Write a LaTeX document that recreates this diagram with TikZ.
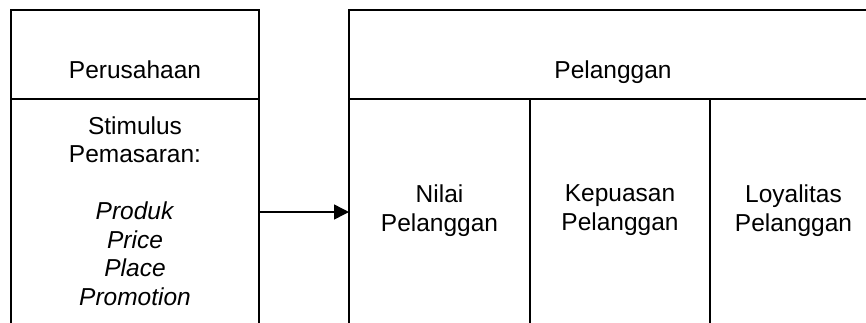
\documentclass[tikz,border=0pt]{standalone}
\usepackage{fontspec}
\setmainfont{Liberation Sans}
\usetikzlibrary{arrows.meta}

\begin{document}
\begin{tikzpicture}[x=1pt,y=-1pt,line width=1.5pt,
    cell/.style={draw,rectangle,inner sep=0pt,outer sep=0pt,anchor=north west},
    txt/.style={align=center,inner sep=0pt,font=\fontsize{24.5}{28.5}\selectfont}]
        \clip (0,0) rectangle (866,322);
        % kotak kiri
        \node[cell,minimum width=248pt,minimum height=89pt] (perusahaan) at (11,10){};
        \node[cell,minimum width=248pt,minimum height=226pt] (stimulus) at (11,99){};
        % kotak kanan
        \node[cell,minimum width=528pt,minimum height=89pt] (pelanggan) at (349,10){};
        \node[cell,minimum width=181pt,minimum height=226pt] (nilai) at (349,99){};
        \node[cell,minimum width=180pt,minimum height=226pt] (kepuasan) at (530,99){};
        \node[cell,minimum width=167pt,minimum height=226pt] (loyalitas) at (710,99){};
        % teks
        \node[txt,anchor=base] (tperusahaan) at (135,78){Perusahaan};
        \node[txt,anchor=base] (tpelanggan) at (613,78){Pelanggan};
        \node[txt,anchor=north] (tstimulus) at (135,115.5){Stimulus\\Pemasaran:\\[28.5pt]\textit{Produk}\\\textit{Price}\\\textit{Place}\\\textit{Promotion}};
        \node[txt,anchor=north] (tnilai) at (439.5,184){Nilai\\Pelanggan};
        \node[txt,anchor=north] (tkepuasan) at (620,184){Kepuasan\\Pelanggan};
        \node[txt,anchor=north] (tloyalitas) at (793.5,184){Loyalitas\\Pelanggan};
        \draw[-{Triangle[length=15pt,width=15pt]}] (stimulus.east) -- (nilai.west);
    \end{tikzpicture}
\end{document}
